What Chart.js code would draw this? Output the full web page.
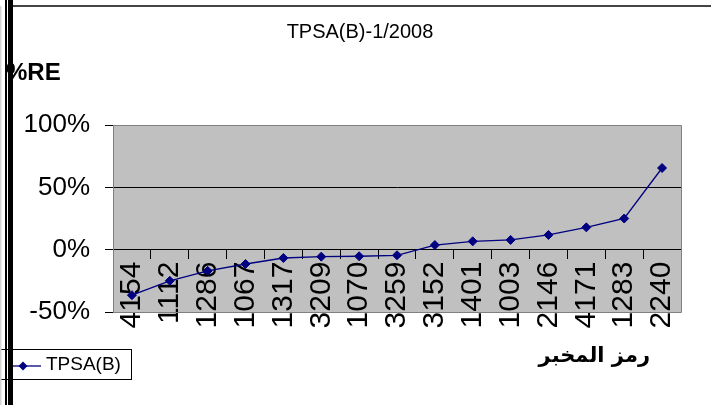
<!DOCTYPE html>
<html>
<head>
<meta charset="utf-8">
<script src="https://cdn.jsdelivr.net/npm/chart.js@4/dist/chart.umd.min.js"></script>
<style>
  html, body { margin: 0; padding: 0; background: #fff; }
  canvas { display: block; }
</style>
</head>
<body>
<canvas id="chart" width="711" height="405"></canvas>
<script>
// lab codes along the x axis, sorted by %RE
const labCodes = ['4154', '1112', '1286', '1067', '1317', '3209', '1070', '3259',
  '3152', '1401', '1003', '2146', '4171', '1283', '2240'];
// relative error in percent
const tpsaRE = [-36.5, -25, -17, -11.5, -6.7, -5.6, -5.3, -4.5,
  3.7, 6.7, 7.8, 11.8, 17.9, 25, 65.5];
const yTicks = [-50, 0, 50, 100];

const seriesName = 'TPSA(B)';
const chartTitle = 'TPSA(B)-1/2008';
const yTitle = '%RE';
const xTitle = 'رمز المخبر';

const FONT = "'Liberation Sans', Arial, sans-serif";
const NAVY = '#000080';

// grey plot area, frame, axis titles and the boxed legend
const sheetPlugin = {
  id: 'sheet',
  beforeDraw(chart) {
    const { ctx, chartArea: a } = chart;
    ctx.save();
    ctx.fillStyle = '#fff';
    ctx.fillRect(0, 0, chart.width, chart.height);
    ctx.fillStyle = '#c0c0c0';
    ctx.fillRect(a.left, a.top, a.right - a.left, a.bottom - a.top);
    ctx.restore();
  },
  beforeDatasetsDraw(chart) {
    const { ctx, chartArea: a } = chart;
    ctx.save();
    ctx.strokeStyle = '#808080';
    ctx.lineWidth = 1;
    ctx.beginPath();
    ctx.moveTo(a.left, a.top + 0.5);
    ctx.lineTo(a.right + 0.5, a.top + 0.5);
    ctx.lineTo(a.right + 0.5, a.bottom + 0.5);
    ctx.lineTo(a.left, a.bottom + 0.5);
    ctx.stroke();
    ctx.restore();
  },
  afterDraw(chart) {
    const { ctx } = chart;
    const ds = chart.data.datasets[0];
    ctx.save();

    // y axis title
    ctx.fillStyle = '#000';
    ctx.font = 'bold 24px ' + FONT;
    ctx.textAlign = 'left';
    ctx.textBaseline = 'alphabetic';
    ctx.fillText(yTitle, 6, 80);

    // x axis title (Arabic)
    ctx.font = "bold 21px 'DejaVu Sans', sans-serif";
    ctx.textAlign = 'right';
    ctx.textBaseline = 'middle';
    ctx.fillText(xTitle, 650, 357);

    // legend box
    ctx.strokeStyle = '#000';
    ctx.lineWidth = 1;
    ctx.strokeRect(-3.5, 349.5, 135, 30);
    ctx.strokeStyle = ds.borderColor;
    ctx.lineWidth = 1.3;
    ctx.beginPath();
    ctx.moveTo(10, 366);
    ctx.lineTo(41, 366);
    ctx.stroke();
    ctx.fillStyle = ds.pointBackgroundColor;
    ctx.beginPath();
    ctx.moveTo(23, 361.5);
    ctx.lineTo(27.5, 366);
    ctx.lineTo(23, 370.5);
    ctx.lineTo(18.5, 366);
    ctx.closePath();
    ctx.fill();
    ctx.fillStyle = '#000';
    ctx.font = '19px ' + FONT;
    ctx.textAlign = 'left';
    ctx.fillText(ds.label, 46, 365);

    // page frame
    ctx.fillStyle = '#d4d4d4';
    ctx.fillRect(0, 6, 1.5, chart.height);
    ctx.fillStyle = '#000';
    ctx.fillRect(5, 0, 2, chart.height);
    ctx.fillRect(8, 0, 5, chart.height);
    ctx.fillStyle = '#444';
    ctx.fillRect(13, 5, chart.width - 13, 2);
    ctx.restore();
  }
};

new Chart(document.getElementById('chart'), {
  type: 'line',
  data: {
    labels: labCodes,
    datasets: [{
      label: seriesName,
      data: tpsaRE,
      borderColor: NAVY,
      borderWidth: 1.3,
      backgroundColor: NAVY,
      pointStyle: 'rectRot',
      pointRadius: 4.5,
      pointBackgroundColor: NAVY,
      pointBorderColor: NAVY,
      pointBorderWidth: 1,
      tension: 0,
      fill: false,
      clip: false
    }]
  },
  options: {
    responsive: false,
    animation: false,
    devicePixelRatio: 1,
    layout: { padding: { left: 9, right: 0, top: 0, bottom: 93 } },
    plugins: {
      legend: { display: false },
      tooltip: { enabled: false },
      title: {
        display: true,
        text: chartTitle,
        color: '#000',
        font: { family: FONT, size: 20, weight: 'normal', lineHeight: 1.2 },
        padding: { top: 20, bottom: 81 }
      }
    },
    scales: {
      x: {
        type: 'category',
        position: { y: 0 },
        offset: true,
        grid: {
          offset: true,
          drawOnChartArea: false,
          drawTicks: true,
          tickLength: 9,
          tickColor: '#000',
          color: '#000'
        },
        border: { color: '#000', width: 1 },
        ticks: {
          autoSkip: false,
          minRotation: 90,
          maxRotation: 90,
          padding: 3,
          color: '#000',
          font: { family: FONT, size: 30 }
        }
      },
      y: {
        min: -50,
        max: 100,
        afterBuildTicks: s => { s.ticks = yTicks.map(v => ({ value: v })); },
        afterFit: s => { s.width = 104; },
        grid: {
          color: c => (c.tick && (c.tick.value === 0 || c.tick.value === 50)) ? '#000' : 'rgba(0,0,0,0)',
          tickColor: '#000',
          tickLength: 8,
          lineWidth: 1
        },
        border: { color: '#808080', width: 1 },
        ticks: {
          padding: 15,
          color: '#000',
          font: { family: FONT, size: 26 },
          callback: v => v + '%'
        }
      },
      // empty right-hand axis, only keeps the white margin right of the plot
      yMargin: {
        type: 'linear',
        position: 'right',
        display: true,
        afterFit: s => { s.width = 30; },
        grid: { display: false },
        border: { display: false },
        ticks: { display: false }
      }
    }
  },
  plugins: [sheetPlugin]
});
</script>
</body>
</html>
